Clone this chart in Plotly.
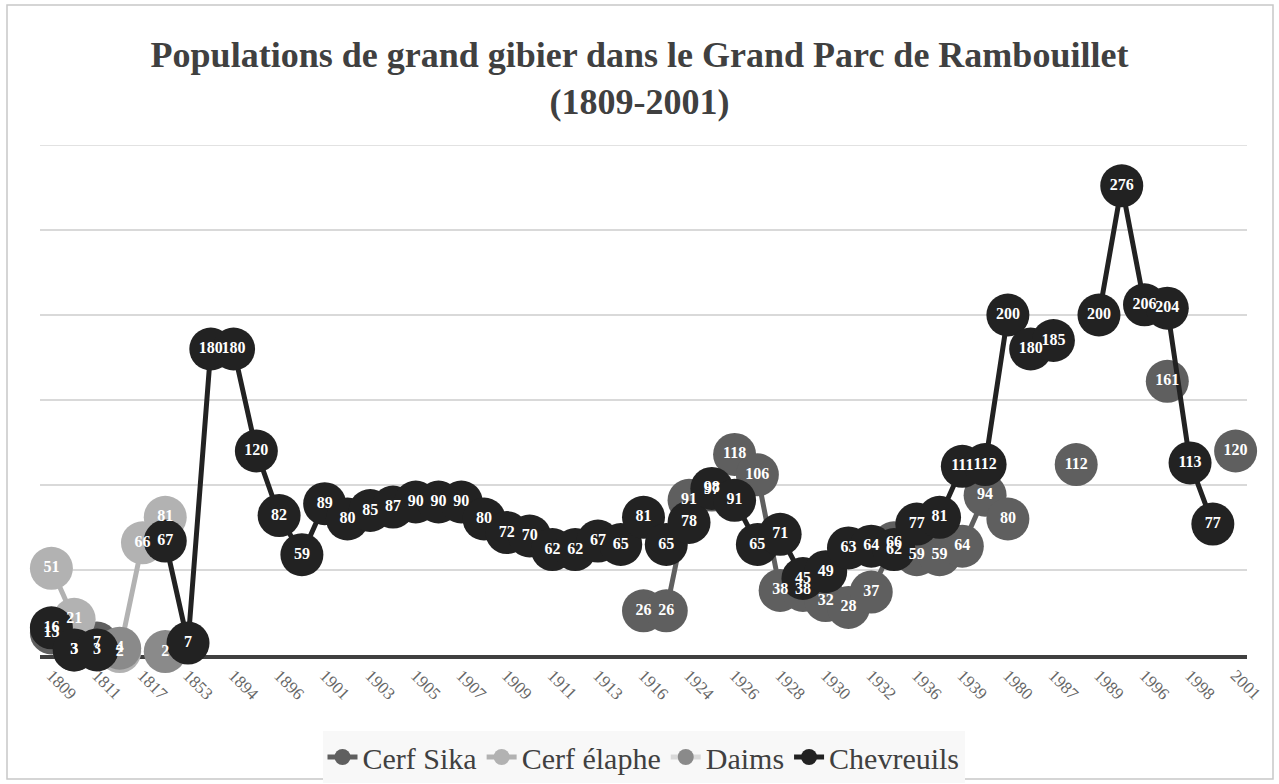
import plotly.graph_objects as go

# ---- data ----
years = ["1809", "1810", "1811", "1812", "1817", "1818", "1853", "1893", "1894", "1895",
         "1896", "1900", "1901", "1902", "1903", "1904", "1905", "1906", "1907", "1908",
         "1909", "1910", "1911", "1912", "1913", "1914", "1916", "1923", "1924", "1925",
         "1926", "1927", "1928", "1929", "1930", "1931", "1932", "1935", "1936", "1937",
         "1939", "1979", "1980", "1986", "1987", "1988", "1989", "1995", "1996", "1997",
         "1998", "2000", "2001"]
tick_labels = years[::2]

N = None
cerf_sika = [13, 3, 7, N, N, N, N, N, N, N,
             N, N, N, N, N, N, N, N, N, N,
             N, N, N, N, N, N, 26, 26, 91, 97,
             118, 106, 38, 38, 32, 28, 37, 66, 59, 59,
             64, 94, 80, N, N, 112, N, N, N, 161,
             N, N, 120]
cerf_elaphe = [51, 21, N, 2, 66, 81] + [N] * 47
daims = [N, N, N, 4, N, 2] + [N] * 47
chevreuils = [16, 3, 3, N, N, 67, 7, 180, 180, 120,
              82, 59, 89, 80, 85, 87, 90, 90, 90, 80,
              72, 70, 62, 62, 67, 65, 81, 65, 78, 98,
              91, 65, 71, 45, 49, 63, 64, 62, 77, 81,
              111, 112, 200, 180, 185, N, 200, 276, 206, 204,
              113, 77, N]

series = [
    ("Cerf Sika", cerf_sika, "#5f5f5f", "#5f5f5f"),
    ("Cerf élaphe", cerf_elaphe, "#b2b2b2", "#b2b2b2"),
    ("Daims", daims, "#d9d9d9", "#8a8a8a"),
    ("Chevreuils", chevreuils, "#222222", "#222222"),
]

FONT = "Liberation Serif"
fig = go.Figure()

for name, vals, lcol, mcol in series:
    fig.add_trace(go.Scatter(
        x=years, y=vals, name=name, mode="lines+markers",
        line=dict(color=lcol, width=5),
        marker=dict(color=mcol, size=43, line=dict(width=0)),
        connectgaps=False, cliponaxis=False,
    ))

# data labels on top of every series
for name, vals, lcol, mcol in series:
    fig.add_trace(go.Scatter(
        x=years, y=vals, mode="text", showlegend=False, hoverinfo="skip",
        text=[("" if v is None else str(v)) for v in vals],
        textposition="middle center",
        textfont=dict(family=FONT, size=16, color="white", weight="bold"),
        cliponaxis=False,
    ))

L, R, T, B = 40, 32, 145, 129
W, H = 1279, 784
pw, ph = W - L - R, H - T - B

# outer chart border
fig.add_shape(type="rect", xref="paper", yref="paper",
              x0=(7 - L) / pw, x1=(1273 - L) / pw,
              y0=(H - B - 779) / ph, y1=(H - B - 5) / ph,
              line=dict(color="#c8c8c8", width=1.5), layer="below")
# top gridline (at range edge)
fig.add_shape(type="line", xref="paper", yref="y", x0=0, x1=1, y0=300, y1=300,
              line=dict(color="#d9d9d9", width=1.5), layer="below")

fig.update_layout(
    width=W, height=H,
    margin=dict(l=L, r=R, t=T, b=B, autoexpand=False),
    paper_bgcolor="white", plot_bgcolor="white",
    title=dict(
        text="<b>Populations de grand gibier dans le Grand Parc de Rambouillet<br>(1809-2001)</b>",
        x=0.5, xanchor="center", y=0.914, yanchor="top",
        font=dict(family=FONT, size=36, color="#404040"),
    ),
    xaxis=dict(
        type="category", categoryorder="array", categoryarray=years,
        range=[-0.5, len(years) - 0.5],
        tickmode="array", tickvals=tick_labels, ticktext=tick_labels,
        tickangle=45, tickfont=dict(family=FONT, size=17, color="#666666"),
        showgrid=False, showline=True, linecolor="#404040", linewidth=3.5,
        ticks="", layer="below traces", automargin=False,
    ),
    yaxis=dict(
        range=[0, 300], dtick=50, showticklabels=False,
        showgrid=True, gridcolor="#d9d9d9", gridwidth=1.5,
        zeroline=False, showline=False, ticks="", automargin=False,
    ),
    legend=dict(
        orientation="h", x=0.5, xanchor="center", y=-0.2, yanchor="middle",
        font=dict(family=FONT, size=30, color="#404040"),
        bgcolor="#f8f8f8",
    ),
    showlegend=True,
)

fig.write_html("out.html", config={"displayModeBar": False},
               post_script="document.body.style.margin='0';")
